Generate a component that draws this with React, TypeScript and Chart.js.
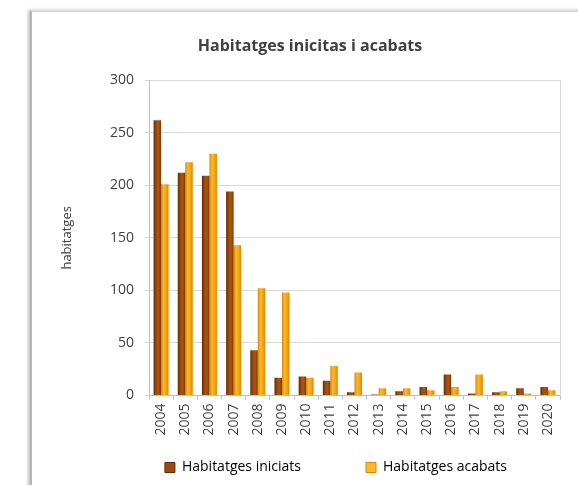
import React, { useEffect, useRef } from 'react';
import { Chart, registerables } from 'chart.js';

Chart.register(...registerables);

const years = ['2004', '2005', '2006', '2007', '2008', '2009', '2010', '2011', '2012', '2013', '2014', '2015', '2016', '2017', '2018', '2019', '2020'];
const iniciats = [262, 212, 209, 194, 43, 17, 18, 14, 3, 1, 4, 8, 20, 2, 3, 7, 8];
const acabats = [201, 222, 230, 143, 102, 98, 17, 28, 22, 7, 7, 5, 8, 20, 4, 2, 5];
const seriesNames = ['Habitatges iniciats', 'Habitatges acabats'];
const chartTitle = 'Habitatges inicitas i acabats';
const yTitle = 'habitatges';
const yMin = 0;
const yMax = 300;
const yStep = 50;

const FONT = "'Open Sans', 'Liberation Sans', sans-serif";
const TEXT = '#404040';
const GRID = '#d9d9d9';
const AXIS = '#bfbfbf';
const CAT_PCT = 0.62;

const brownStops = ['#5e2804', '#9c4c0e', '#a9560f', '#7a3807'];
const orangeStops = ['#d98700', '#ffb730', '#f6a510', '#d98a00'];

function barGradient(stops: string[], side: number) {
  return (ctx: any) => {
    const chart = ctx.chart;
    const xs = chart.scales && chart.scales.x;
    if (!xs || ctx.dataIndex === undefined) return stops[1];
    const xc = xs.getPixelForValue(ctx.dataIndex);
    const catW = xs.width / years.length;
    const w = (catW * CAT_PCT) / 2;
    const x0 = side === 0 ? xc - w : xc;
    const x1 = x0 + w;
    if (!isFinite(x0) || !isFinite(x1)) return stops[1];
    const g = chart.ctx.createLinearGradient(x0, 0, x1, 0);
    g.addColorStop(0, stops[0]);
    g.addColorStop(0.35, stops[1]);
    g.addColorStop(0.65, stops[2]);
    g.addColorStop(1, stops[3]);
    return g;
  };
}

// keep room under the category axis for its rotated labels (the axis itself takes no layout height)
const xLabelRoom = {
  id: 'xLabelRoom',
  afterLayout(chart: any) {
    const s = chart.scales.x;
    if (s) s.bottom = s.top + 60;
  },
};

export default function App() {
  const ref = useRef<HTMLCanvasElement>(null);
  useEffect(() => {
    const font = { family: FONT, size: 14 };
    const chart = new Chart(ref.current as HTMLCanvasElement, {
      type: 'bar',
      data: {
        labels: years,
        datasets: [
          { label: seriesNames[0], data: iniciats, backgroundColor: barGradient(brownStops, 0) as any, borderWidth: 0 },
          { label: seriesNames[1], data: acabats, backgroundColor: barGradient(orangeStops, 1) as any, borderWidth: 0 },
        ],
      },
      plugins: [xLabelRoom],
      options: {
        responsive: false,
        animation: false,
        layout: { padding: { left: 48, right: 6, top: 0, bottom: 0.5 } },
        datasets: { bar: { categoryPercentage: CAT_PCT, barPercentage: 1 } },
        plugins: {
          title: {
            display: true,
            text: chartTitle,
            color: TEXT,
            font: { family: FONT, size: 16, weight: 'bold' },
            padding: { top: 37, bottom: 24 },
          },
          legend: {
            position: 'bottom',
            align: 'end',
            maxHeight: 91,
            labels: {
              boxWidth: 10,
              boxHeight: 10,
              padding: 65,
              color: TEXT,
              font: { family: FONT, size: 14 },
              generateLabels: (c: any) =>
                c.data.datasets.map((d: any, i: number) => ({
                  text: d.label,
                  fillStyle: i === 0 ? brownStops[1] : orangeStops[1],
                  strokeStyle: i === 0 ? brownStops[0] : orangeStops[0],
                  lineWidth: 1,
                  hidden: false,
                  datasetIndex: i,
                })),
            },
          },
          tooltip: { enabled: false },
        },
        scales: {
          x: {
            grid: { display: true, drawOnChartArea: false, offset: true, tickLength: 4, color: AXIS },
            border: { color: AXIS },
            ticks: { maxRotation: 90, minRotation: 90, padding: 4, color: TEXT, font, autoSkip: false },
            afterFit: (s: any) => { s.height = 0; },
          },
          y: {
            min: yMin,
            max: yMax,
            ticks: { stepSize: yStep, padding: 11, color: TEXT, font },
            grid: { color: GRID, tickLength: 4 },
            border: { color: AXIS },
            title: { display: true, text: yTitle, color: TEXT, font: { family: FONT, size: 13 }, padding: { top: 11, bottom: 0 } },
            afterFit: (s: any) => { s.width = 101; },
          },
          y2: {
            position: 'right',
            display: true,
            grid: { drawOnChartArea: false, drawTicks: false },
            ticks: { display: false },
            border: { color: GRID },
            afterFit: (s: any) => { s.width = 12; },
          },
        },
      } as any,
    });
    return () => chart.destroy();
  }, []);

  return (
    <div style={{ position: 'fixed', left: 0, top: 0, width: 578, height: 485, background: '#fff', overflow: 'hidden' }}>
      <div
        style={{
          position: 'absolute',
          left: 30,
          top: 10,
          width: 600,
          height: 520,
          borderTop: '2px solid #d9d9d9',
          borderLeft: '2px solid #b5b5b5',
          boxShadow: '-2px 0 3px rgba(0,0,0,0.25)',
          background: '#fff',
        }}
      />
      <canvas ref={ref} width={578} height={485} style={{ position: 'absolute', left: 0, top: 0, display: 'block' }} />
    </div>
  );
}
